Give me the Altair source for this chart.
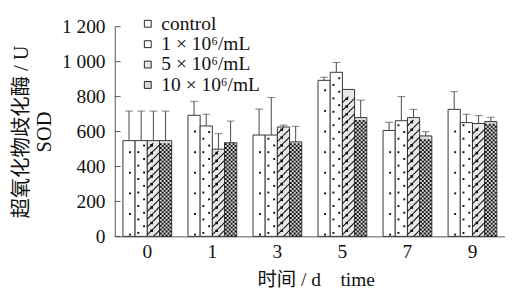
import altair as alt
import pandas as pd

days = ["0", "1", "3", "5", "7", "9"]
series = ["control", "1 × 10⁶/mL", "5 × 10⁶/mL", "10 × 10⁶/mL"]

control_vals = [548, 693, 580, 893, 606, 727]
low_vals = [548, 632, 580, 939, 662, 651]
mid_vals = [548, 499, 626, 841, 680, 646]
high_vals = [548, 536, 541, 680, 575, 657]

control_upper = [717, 773, 729, 911, 653, 828]
low_upper = [717, 699, 795, 995, 800, 699]
mid_upper = [717, 588, 637, 841, 727, 691]
high_upper = [717, 660, 630, 780, 599, 682]

y_ticks = [0, 200, 400, 600, 800, 1000, 1200]
fills = ["#ffffff", "#ffffff", "#e8e8e8", "#dadada"]

FONT = "Liberation Serif, Noto Sans CJK SC"
PLOT_W = 402
PLOT_H = 216
Y_MAX = 1200
U_PER_PX = Y_MAX / PLOT_H  # data units per pixel
STEP = PLOT_W / 6.0
BAR_W = STEP * 0.75 / 4
UNIT = BAR_W / 2  # px per symbol unit
SYM_SIZE = (2 * UNIT) ** 2

rows = []
for s, vals, ups in zip(series,
                        [control_vals, low_vals, mid_vals, high_vals],
                        [control_upper, low_upper, mid_upper, high_upper]):
    for d, v, u in zip(days, vals, ups):
        rows.append({"day": d, "series": s, "value": v, "upper": u})
df = pd.DataFrame(rows)


# ---- texture shapes (custom symbol paths) ----
def sq(cx, cy, w=2.0):
    x0, y0 = (cx - w / 2) / UNIT, (cy - w / 2) / UNIT
    s = w / UNIT
    return f"M{x0:.4f},{y0:.4f}h{s:.4f}v{s:.4f}h{-s:.4f}Z"


def seg(x1, y1, x2, y2):
    return (f"M{x1 / UNIT:.4f},{y1 / UNIT:.4f}"
            f"L{x2 / UNIT:.4f},{y2 / UNIT:.4f}")


hw = BAR_W / 2


def clip_line(c):
    # '/' line y = -x + c (px) clipped to the tile |x| <= hw, |y| <= 4
    x1 = max(-hw, c - 4)
    x2 = min(hw, c + 4)
    return seg(x1, -x1 + c, x2, -x2 + c)


dot_c = sq(1, 0)
dot_a = sq(-3, 0)
dot_b = sq(3, 0)
hatch = clip_line(-4) + clip_line(4) + sq(-1.8, -1.8, 1.6)
checker = "".join(sq(x, -1, 2) for x in (-5, -1, 3)) + "".join(sq(x, 1, 2) for x in (-3, 1, 5))

tex = []
for r in rows:
    v = r["value"]
    d, s = r["day"], r["series"]
    if s == series[0]:
        y = 10
        while y < v - 15:
            tex.append({"day": d, "series": s, "y": y, "kind": "c"})
            y += 118
    elif s == series[1]:
        for start, kind in ((20, "a"), (58, "b")):
            y = start
            while y < v - 12:
                tex.append({"day": d, "series": s, "y": y, "kind": kind})
                y += 77
    elif s == series[2]:
        step = 8 * U_PER_PX
        k = 0
        while (k + 1) * step <= v:
            tex.append({"day": d, "series": s, "y": (k + 0.5) * step, "kind": "h"})
            k += 1
    else:
        step = 4 * U_PER_PX
        k = 0
        while (k + 1) * step <= v:
            tex.append({"day": d, "series": s, "y": (k + 0.5) * step, "kind": "k"})
            k += 1
tex_df = pd.DataFrame(tex)

X_TITLE = "时间 / d\u00a0\u00a0\u00a0\u00a0time"
Y_TITLE = ["超氧化物歧化酶 / U", "SOD"]

common_axis = dict(labelFont=FONT, labelFontSize=20, labelColor="#111",
                   titleFont=FONT, titleColor="#111",
                   titleFontWeight="normal", domainColor="#555", grid=False)
x_axis = alt.Axis(labelAngle=0, ticks=False, labelPadding=6, titlePadding=9,
                  titleFontSize=20, titleX=207, **common_axis)
y_axis = alt.Axis(values=y_ticks, ticks=False, labelPadding=10,
                  labelOverlap=False, titlePadding=7, titleLineHeight=24,
                  titleFontSize=21,
                  labelExpr="replace(format(datum.value, 'd'), /^(\\d)(\\d{3})$/, '$1 $2')",
                  **common_axis)
x_scale = alt.Scale(paddingInner=0.25, paddingOuter=0.125)
xo_scale = alt.Scale(domain=series, paddingInner=0, paddingOuter=0)
y_scale = alt.Scale(domain=[0, Y_MAX], nice=False)


def X():
    return alt.X("day:N", sort=days, title=X_TITLE, scale=x_scale, axis=x_axis)


def XO():
    return alt.XOffset("series:N", sort=series, scale=xo_scale)


def Y(field):
    return alt.Y(field, scale=y_scale, title=Y_TITLE, axis=y_axis)


base = alt.Chart(df)

bars = base.mark_bar(stroke="#333", strokeWidth=1).encode(
    x=X(),
    xOffset=XO(),
    y=Y("value:Q"),
    color=alt.Color("series:N", sort=series,
                    scale=alt.Scale(domain=series, range=fills),
                    legend=alt.Legend(title=None, orient="none", legendX=24, legendY=-13,
                                      symbolType="square", symbolSize=50,
                                      symbolStrokeColor="#222", symbolStrokeWidth=1,
                                      labelFont=FONT, labelFontSize=20,
                                      labelColor="#111", labelOffset=4,
                                      rowPadding=1, padding=0)),
)


def tex_layer(kind, path, stroke=None):
    kw = dict(shape=path, size=SYM_SIZE, filled=True, fill="#111", opacity=1)
    if stroke:
        kw.update(stroke="#111", strokeWidth=stroke)
    else:
        kw.update(strokeWidth=0)
    return alt.Chart(tex_df).transform_filter(
        alt.datum.kind == kind
    ).mark_point(**kw).encode(
        x=X(),
        xOffset=XO(),
        y=Y("y:Q"),
    )


err_filter = alt.datum.upper > alt.datum.value

err = base.transform_filter(err_filter).mark_rule(color="#444", strokeWidth=1).encode(
    x=X(),
    xOffset=XO(),
    y=Y("value:Q"),
    y2="upper:Q",
)

caps = base.transform_filter(err_filter).mark_tick(
    color="#444", orient="horizontal", size=8, thickness=1).encode(
    x=X(),
    xOffset=XO(),
    y=Y("upper:Q"),
)

tick_df = pd.DataFrame({"t": y_ticks})
inner_ticks = alt.Chart(tick_df).mark_rule(color="#555", strokeWidth=1).encode(
    y=Y("t:Q"),
    x=alt.value(0),
    x2=alt.value(6),
)

chart = alt.layer(
    bars, err, caps,
    tex_layer("c", dot_c), tex_layer("a", dot_a), tex_layer("b", dot_b),
    tex_layer("h", hatch, stroke=1.1), tex_layer("k", checker),
    inner_ticks
).properties(
    width=PLOT_W, height=PLOT_H,
    autosize=alt.AutoSizeParams(type="none"),
    padding={"left": 110, "top": 15, "right": 0, "bottom": 52},
).configure_view(stroke=None).configure_axis(
    grid=False,
    labelFont=FONT, labelColor="#111",
    titleFont=FONT, titleColor="#111", titleFontWeight="normal",
).configure_text(font=FONT)

chart.save("out.html", embed_options={"renderer": "svg", "actions": False})
